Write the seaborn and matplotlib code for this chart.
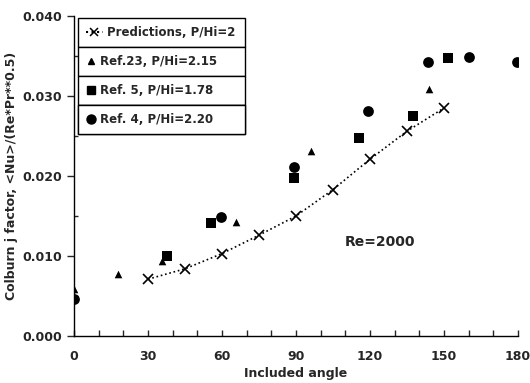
import matplotlib
matplotlib.use("Agg")
import matplotlib.pyplot as plt
import seaborn as sns
from matplotlib.ticker import MultipleLocator, FormatStrFormatter
from matplotlib.lines import Line2D

sns.set_style("ticks")
plt.rcParams['font.family'] = ['DejaVu Sans']
plt.rcParams['font.weight'] = 'bold'

pred_angle = [30, 45, 60, 75, 90, 105, 120, 135, 150]
pred_j = [0.0071, 0.0084, 0.0103, 0.0126, 0.0150, 0.0183, 0.0221, 0.0256, 0.0285]

ref23_angle = [0, 18, 35.5, 65.5, 96, 144]
ref23_j = [0.0059, 0.0078, 0.0094, 0.0142, 0.0231, 0.0309]

ref5_angle = [37.6, 55.4, 89, 115.6, 137.5, 151.7]
ref5_j = [0.0100, 0.0141, 0.0197, 0.0248, 0.0275, 0.0347]

ref4_angle = [0, 59.5, 89, 119, 143.6, 160, 179.6]
ref4_j = [0.0046, 0.0149, 0.0211, 0.0281, 0.0342, 0.0349, 0.0342]

labels = ["Predictions, P/Hi=2", "Ref.23, P/Hi=2.15", "Ref. 5, P/Hi=1.78", "Ref. 4, P/Hi=2.20"]

fig = plt.figure(figsize=(5.3, 3.83), dpi=100)
ax = fig.add_axes([74/530, 1 - 336/383, 444/530, 320/383])

sns.lineplot(x=pred_angle, y=pred_j, ax=ax, color='black', linestyle=':', linewidth=1.2,
             marker='x', markersize=7, markeredgewidth=1.2, markeredgecolor='black')
sns.scatterplot(x=ref23_angle, y=ref23_j, ax=ax, color='black', marker='^', s=30, edgecolor='black', linewidth=0)
sns.scatterplot(x=ref5_angle, y=ref5_j, ax=ax, color='black', marker='s', s=50, edgecolor='black', linewidth=0)
sns.scatterplot(x=ref4_angle, y=ref4_j, ax=ax, color='black', marker='o', s=60, edgecolor='black', linewidth=0)

ax.set_xlim(0, 180)
ax.set_ylim(0, 0.040)
ax.xaxis.set_major_locator(MultipleLocator(30))
ax.xaxis.set_minor_locator(MultipleLocator(10))
ax.yaxis.set_major_locator(MultipleLocator(0.010))
ax.yaxis.set_minor_locator(MultipleLocator(0.005))
ax.yaxis.set_major_formatter(FormatStrFormatter('%.3f'))
ax.tick_params(axis='x', which='both', direction='in', length=4, width=1, labelsize=9, pad=10)
ax.tick_params(axis='y', which='major', direction='out', length=5, width=1, labelsize=9)
ax.tick_params(axis='y', which='minor', direction='in', length=3, width=1)
for lab in ax.get_xticklabels() + ax.get_yticklabels():
    lab.set_fontweight('bold')
for sp in ['top', 'right']:
    ax.spines[sp].set_visible(False)
for sp in ['left', 'bottom']:
    ax.spines[sp].set_linewidth(1.0)
    ax.spines[sp].set_color('black')

ax.set_xlabel("Included angle", fontsize=9, fontweight='bold', labelpad=3)
ax.set_ylabel("Colburn j factor, <Nu>/(Re*Pr**0.5)", fontsize=9, fontweight='bold', labelpad=3)

ax.text(124, 0.0118, "Re=2000", fontsize=10, fontweight='bold', ha='center', va='center')

handles = [
    Line2D([], [], color='black', linestyle=':', marker='x', markersize=6, markeredgewidth=1.1),
    Line2D([], [], color='black', linestyle='none', marker='^', markersize=5),
    Line2D([], [], color='black', linestyle='none', marker='s', markersize=6),
    Line2D([], [], color='black', linestyle='none', marker='o', markersize=6.5),
]
box_h = 29
for i, (h, lab) in enumerate(zip(handles, labels)):
    top = 18 + i * box_h
    leg = ax.legend([h], [lab], loc='upper left',
                    bbox_to_anchor=(78/530, 1 - (top + box_h)/383, 167/530, box_h/383),
                    bbox_transform=fig.transFigure, mode='expand',
                    frameon=True, fancybox=False, borderaxespad=0,
                    handlelength=1.4 if i == 0 else 0.8, handletextpad=0.4,
                    borderpad=0.68, prop={'weight': 'bold', 'size': 8.5})
    leg.get_frame().set_edgecolor('black')
    leg.get_frame().set_linewidth(1.0)
    leg.get_frame().set_alpha(1)
    ax.add_artist(leg)

fig.savefig("out.png", dpi=100)
